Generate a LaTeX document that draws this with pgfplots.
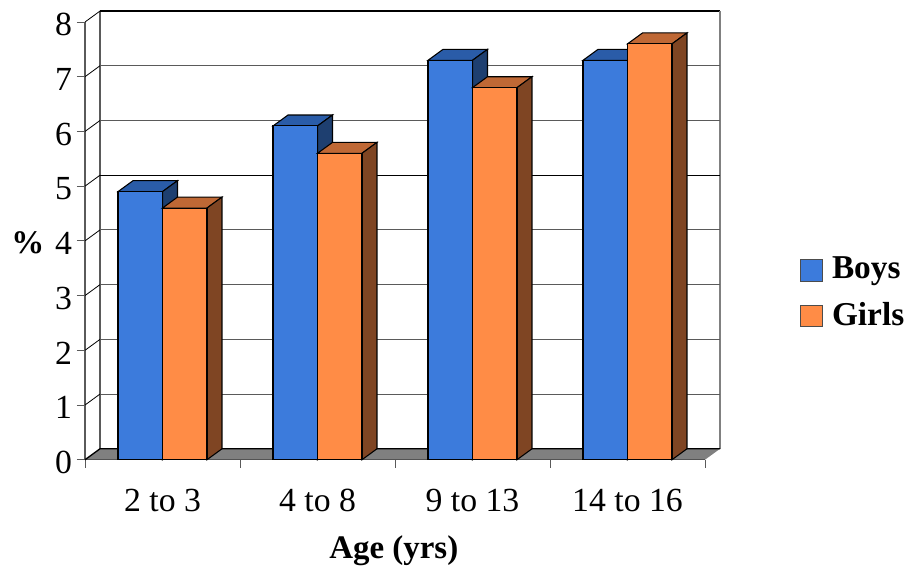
\documentclass[border=0pt]{standalone}
\usepackage{pgfplots}
\pgfplotsset{compat=1.18}
\usepackage{fontspec}
\setmainfont{Liberation Serif}
\definecolor{boysf}{HTML}{3C7BDC}
\definecolor{boyst}{HTML}{2A5CA8}
\definecolor{boyss}{HTML}{1E3F70}
\definecolor{girlf}{HTML}{FF8C46}
\definecolor{girlt}{HTML}{BF6835}
\definecolor{girls}{HTML}{7F4523}
\definecolor{wallg}{HTML}{5A5A5A}
\definecolor{floorg}{HTML}{808080}
% top colour, side colour, xl, xr, xl back, xr back, value, back value
\newcommand{\faces}[8]{%
  \addplot[forget plot,fill=#1,draw=black,line width=0.8pt] coordinates {(#3,#7) (#5,#8) (#6,#8) (#4,#7)} -- cycle;
  \addplot[forget plot,fill=#2,draw=black,line width=0.8pt] coordinates {(#4,#7) (#6,#8) (#6,0.2) (#4,0)} -- cycle;
}
\begin{document}
\fontsize{24.4}{28}\selectfont
\begin{tikzpicture}
\path[use as bounding box] (-63.75pt,-81.2pt) rectangle (617.25pt,344.8pt);
\begin{axis}[
  at={(0,0)}, anchor=origin,
  scale only axis, width=465pt, height=328.3pt,
  xmin=0, xmax=4, ymin=0, ymax=8,
  clip=false,
  axis x line=bottom, axis y line=left,
  axis line style={-},
  x axis line style={black,line width=0.9pt},
  y axis line style={wallg,line width=1pt},
  tick align=outside,
  major tick length=6pt,
  xtick={0,1,2,3,4}, xticklabels={},
  extra x ticks={0.5,1.5,2.5,3.5},
  extra x tick labels={2 to 3,4 to 8,9 to 13,14 to 16},
  extra x tick style={major tick length=0pt,
     xticklabel style={yshift=-13.3pt,text height=17.2pt,text depth=0pt}},
  ytick={0,1,2,3,4,5,6,7,8},
  tick style={wallg,line width=0.7pt},
  /pgf/number format/assume math mode=true,
  ticklabel style={font=\fontsize{25.3}{28}\selectfont},
  yticklabel style={yshift=-2pt,xshift=4.5pt},
  xlabel={\textbf{Age (yrs)}},
  ylabel={\textbf{\%}},
  label style={font=\fontsize{24.7}{28}\selectfont},
  xlabel style={at={(rel axis cs:0.498,-0.207)},anchor=center},
  ylabel style={at={(rel axis cs:-0.092,0.495)},anchor=center,rotate=-90},
  legend style={at={(axis cs:4.61,3.755)},anchor=north west,draw=none,fill=none,
     font=\fontsize{25}{28}\selectfont\bfseries,
     row sep=9.75pt, inner sep=0pt, outer sep=0pt},
  legend cell align=left,
]
% back wall
\addplot[forget plot,wallg,line width=0.8pt] coordinates {(0.0968,0.2) (0.0968,8.2)};
\addplot[forget plot,black,line width=0.9pt] coordinates {(0.0968,8.2) (4.0968,8.2)};
\addplot[forget plot,floorg,line width=1pt] coordinates {(4.0968,8.2) (4.0968,0.2)};
% gridlines on the wall
\addplot[forget plot,wallg,line width=0.8pt] coordinates {(0.0968,1.2) (4.0968,1.2)};
\addplot[forget plot,wallg,line width=0.8pt] coordinates {(0.0968,2.2) (4.0968,2.2)};
\addplot[forget plot,wallg,line width=0.8pt] coordinates {(0.0968,3.2) (4.0968,3.2)};
\addplot[forget plot,wallg,line width=0.8pt] coordinates {(0.0968,4.2) (4.0968,4.2)};
\addplot[forget plot,black,line width=0.8pt] coordinates {(0.0968,5.2) (4.0968,5.2)};
\addplot[forget plot,wallg,line width=0.8pt] coordinates {(0.0968,6.2) (4.0968,6.2)};
\addplot[forget plot,wallg,line width=0.8pt] coordinates {(0.0968,7.2) (4.0968,7.2)};
% side wall diagonals
\addplot[forget plot,black,line width=0.6pt] coordinates {(0,1) (0.0968,1.2)};
\addplot[forget plot,black,line width=0.6pt] coordinates {(0,2) (0.0968,2.2)};
\addplot[forget plot,black,line width=0.6pt] coordinates {(0,3) (0.0968,3.2)};
\addplot[forget plot,black,line width=0.6pt] coordinates {(0,4) (0.0968,4.2)};
\addplot[forget plot,black,line width=0.6pt] coordinates {(0,5) (0.0968,5.2)};
\addplot[forget plot,black,line width=0.6pt] coordinates {(0,6) (0.0968,6.2)};
\addplot[forget plot,black,line width=0.6pt] coordinates {(0,7) (0.0968,7.2)};
\addplot[forget plot,black,line width=0.6pt] coordinates {(0,8) (0.0968,8.2)};
% floor
\addplot[forget plot,fill=floorg,draw=none] coordinates {(0,0) (0.0968,0.2) (4.0968,0.2) (4,0)} -- cycle;
\addplot[forget plot,black,line width=1pt] coordinates {(0,0) (0.0968,0.2) (4.0968,0.2)};
% boys
\faces{boyst}{boyss}{0.213}{0.5}{0.3098}{0.5968}{4.9}{5.1}
\faces{boyst}{boyss}{1.213}{1.5}{1.3098}{1.5968}{6.1}{6.3}
\faces{boyst}{boyss}{2.213}{2.5}{2.3098}{2.5968}{7.3}{7.5}
\faces{boyst}{boyss}{3.213}{3.5}{3.3098}{3.5968}{7.3}{7.5}
\addplot[ybar,bar width=0.287,bar shift=-0.1435,fill=boysf,draw=black,line width=0.8pt,
   legend image code/.code={\draw[fill=boysf,draw=black!70,line width=0.7pt] (0,-8.2pt) rectangle (16.5pt,8.2pt); \path[draw=none,fill=none] (16.5pt,0) -- (22pt,0);}]
   coordinates {(0.5,4.9) (1.5,6.1) (2.5,7.3) (3.5,7.3)};
\addlegendentry{Boys}
% girls
\faces{girlt}{girls}{0.5}{0.787}{0.5968}{0.8838}{4.6}{4.8}
\faces{girlt}{girls}{1.5}{1.787}{1.5968}{1.8838}{5.6}{5.8}
\faces{girlt}{girls}{2.5}{2.787}{2.5968}{2.8838}{6.8}{7.0}
\faces{girlt}{girls}{3.5}{3.787}{3.5968}{3.8838}{7.6}{7.8}
\addplot[ybar,bar width=0.287,bar shift=0.1435,fill=girlf,draw=black,line width=0.8pt,
   legend image code/.code={\draw[fill=girlf,draw=black!70,line width=0.7pt] (0,-8.2pt) rectangle (16.5pt,8.2pt); \path[draw=none,fill=none] (16.5pt,0) -- (22pt,0);}]
   coordinates {(0.5,4.6) (1.5,5.6) (2.5,6.8) (3.5,7.6)};
\addlegendentry{Girls}
\end{axis}
\end{tikzpicture}
\end{document}
